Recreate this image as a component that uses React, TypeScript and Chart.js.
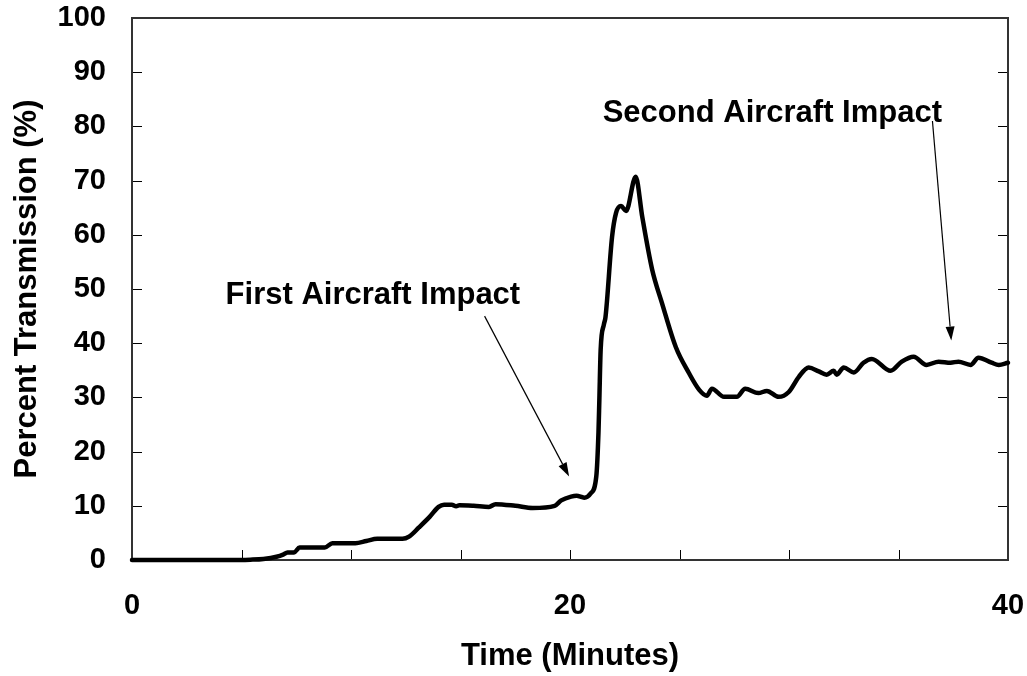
import React, { useEffect, useRef } from "react";
import { Chart, registerables } from "chart.js";

Chart.register(...registerables);

// ---- data (time in minutes, percent transmission) ----
const times = [
  0, 5.0, 5.4, 6.0, 6.6, 6.9, 7.1, 7.4, 7.65, 8.8, 9.15, 10.2, 10.7, 11.2, 12.35,
  12.65, 13.1, 13.6, 14.0, 14.25, 14.6, 14.8, 14.95, 15.6, 16.3, 16.6, 17.5, 18.3,
  19.3, 19.6, 20.05, 20.3, 20.65, 20.95, 21.2, 21.3, 21.34, 21.4, 21.55, 21.62,
  21.92, 22.1, 22.33, 22.56, 23.0, 23.3, 23.75, 24.2, 24.83, 25.43, 25.9, 26.25,
  26.48, 27.03, 27.62, 28.0, 28.6, 28.99, 29.53, 29.99, 30.45, 30.9, 31.36, 31.72,
  32.04, 32.18, 32.5, 32.96, 33.4, 33.78, 34.64, 35.15, 35.69, 36.28, 36.83, 37.38,
  37.74, 38.29, 38.65, 39.25, 39.58, 40.0,
];
const transmission = [
  0, 0, 0.05, 0.2, 0.6, 1.0, 1.4, 1.4, 2.3, 2.3, 3.1, 3.1, 3.5, 3.9, 3.9,
  4.3, 6.0, 8.0, 9.8, 10.2, 10.2, 9.9, 10.1, 10.0, 9.8, 10.3, 10.0, 9.6,
  10.0, 11.0, 11.7, 11.85, 11.5, 12.3, 15.4, 23.5, 29.5, 38.8, 43.5, 44.8,
  59.6, 64.0, 65.3, 64.4, 70.7, 63.3, 53.6, 47.4, 39.3, 34.5, 31.4, 30.3,
  31.6, 30.1, 30.1, 31.6, 30.8, 31.2, 30.1, 31.0, 33.8, 35.5, 34.8, 34.2,
  34.9, 34.2, 35.5, 34.6, 36.4, 37.1, 34.9, 36.6, 37.5, 36.0, 36.6, 36.4,
  36.6, 36.0, 37.3, 36.4, 36.0, 36.4,
];

const xMinorTicks = [0, 5, 10, 15, 20, 25, 30, 35, 40];
const xLabelStep = 20;
const yTicks = [0, 10, 20, 30, 40, 50, 60, 70, 80, 90, 100];

const xTitle = "Time (Minutes)";
const yTitle = "Percent Transmission (%)";

// annotations in data coordinates
const noteTexts = ["First Aircraft Impact", "Second Aircraft Impact"];
const noteTextX = [11.0, 29.24];
const noteTextY = [48.9, 82.4];
const arrowFromX = [16.1, 36.55];
const arrowFromY = [45.0, 81.0];
const arrowToX = [19.96, 37.41];
const arrowToY = [15.4, 40.5];

const FAMILY = '"Liberation Sans", Arial, Helvetica, sans-serif';

const overlay = {
  id: "overlay",
  beforeDatasetsDraw(chart: any) {
    const { ctx, chartArea, scales } = chart;
    const { left, top, right, bottom } = chartArea;
    const x = scales.x;
    const y = scales.y;
    ctx.save();
    ctx.strokeStyle = "#000";
    ctx.lineWidth = 1;
    ctx.beginPath();
    xMinorTicks.forEach((v) => {
      const px = Math.round(x.getPixelForValue(v)) + 0.5;
      ctx.moveTo(px, bottom);
      ctx.lineTo(px, bottom - 10);
    });
    yTicks.forEach((v) => {
      const py = Math.round(y.getPixelForValue(v)) + 0.5;
      ctx.moveTo(left, py);
      ctx.lineTo(left + 10, py);
      ctx.moveTo(right, py);
      ctx.lineTo(right - 10, py);
    });
    ctx.stroke();
    ctx.lineWidth = 2;
    ctx.strokeStyle = "#333";
    ctx.strokeRect(left, top, right - left, bottom - top);
    ctx.restore();
  },
  afterDraw(chart: any) {
    const { ctx, scales } = chart;
    const x = scales.x;
    const y = scales.y;
    ctx.save();
    ctx.fillStyle = "#000";
    ctx.strokeStyle = "#000";
    ctx.font = `bold 31px ${FAMILY}`;
    ctx.textAlign = "center";
    ctx.textBaseline = "middle";
    noteTexts.forEach((t, i) => {
      ctx.fillText(t, x.getPixelForValue(noteTextX[i]), y.getPixelForValue(noteTextY[i]));
      const x1 = x.getPixelForValue(arrowFromX[i]);
      const y1 = y.getPixelForValue(arrowFromY[i]);
      const x2 = x.getPixelForValue(arrowToX[i]);
      const y2 = y.getPixelForValue(arrowToY[i]);
      const ang = Math.atan2(y2 - y1, x2 - x1);
      const headLen = 14;
      const headW = 4.5;
      const bx = x2 - headLen * Math.cos(ang);
      const by = y2 - headLen * Math.sin(ang);
      ctx.lineWidth = 1.2;
      ctx.beginPath();
      ctx.moveTo(x1, y1);
      ctx.lineTo(bx, by);
      ctx.stroke();
      ctx.beginPath();
      ctx.moveTo(x2, y2);
      ctx.lineTo(bx + headW * Math.sin(ang), by - headW * Math.cos(ang));
      ctx.lineTo(bx - headW * Math.sin(ang), by + headW * Math.cos(ang));
      ctx.closePath();
      ctx.fill();
    });
    ctx.restore();
  },
};

function zeroPad(s: any) {
  s.paddingTop = 0;
  s.paddingBottom = 0;
  s.paddingLeft = 0;
  s.paddingRight = 0;
}

export default function App() {
  const ref = useRef<HTMLCanvasElement | null>(null);
  useEffect(() => {
    document.body.style.margin = "0";
    const canvas = ref.current;
    if (!canvas) return;
    const tickFont = { family: FAMILY, size: 29, weight: "bold" as const };
    const titleFont = { family: FAMILY, size: 31, weight: "bold" as const };
    const chart = new Chart(canvas, {
      type: "line",
      data: {
        datasets: [
          {
            data: times.map((t, i) => ({ x: t, y: transmission[i] })),
            borderColor: "#000",
            borderWidth: 4.5,
            pointRadius: 0,
            cubicInterpolationMode: "monotone",
            borderJoinStyle: "round",
            borderCapStyle: "round",
            clip: false as any,
          },
        ],
      },
      options: {
        animation: false,
        responsive: false,
        events: [],
        layout: { padding: { top: 18, right: 19, left: 0, bottom: 0 } },
        plugins: { legend: { display: false }, tooltip: { enabled: false } },
        scales: {
          x: {
            type: "linear",
            min: 0,
            max: 40,
            grid: { display: false },
            border: { display: false },
            ticks: {
              stepSize: xLabelStep,
              color: "#000",
              font: tickFont,
              padding: 21,
              maxRotation: 0,
              autoSkip: false,
            },
            title: {
              display: true,
              text: xTitle,
              color: "#000",
              font: titleFont,
              padding: { top: 0, bottom: 1 },
            },
            afterFit(s: any) {
              s.height = 116;
              zeroPad(s);
            },
          },
          y: {
            type: "linear",
            min: 0,
            max: 100,
            grid: { display: false },
            border: { display: false },
            ticks: {
              stepSize: 10,
              color: "#000",
              font: tickFont,
              padding: 18,
            },
            title: {
              display: true,
              text: yTitle,
              color: "#000",
              font: titleFont,
              padding: { top: 9, bottom: 0 },
            },
            afterFit(s: any) {
              s.width = 132;
              zeroPad(s);
            },
          },
        },
      },
      plugins: [overlay],
    });
    return () => chart.destroy();
  }, []);
  return (
    <div style={{ width: 1027, height: 676 }}>
      <canvas ref={ref} width={1027} height={676} style={{ display: "block" }} />
    </div>
  );
}
